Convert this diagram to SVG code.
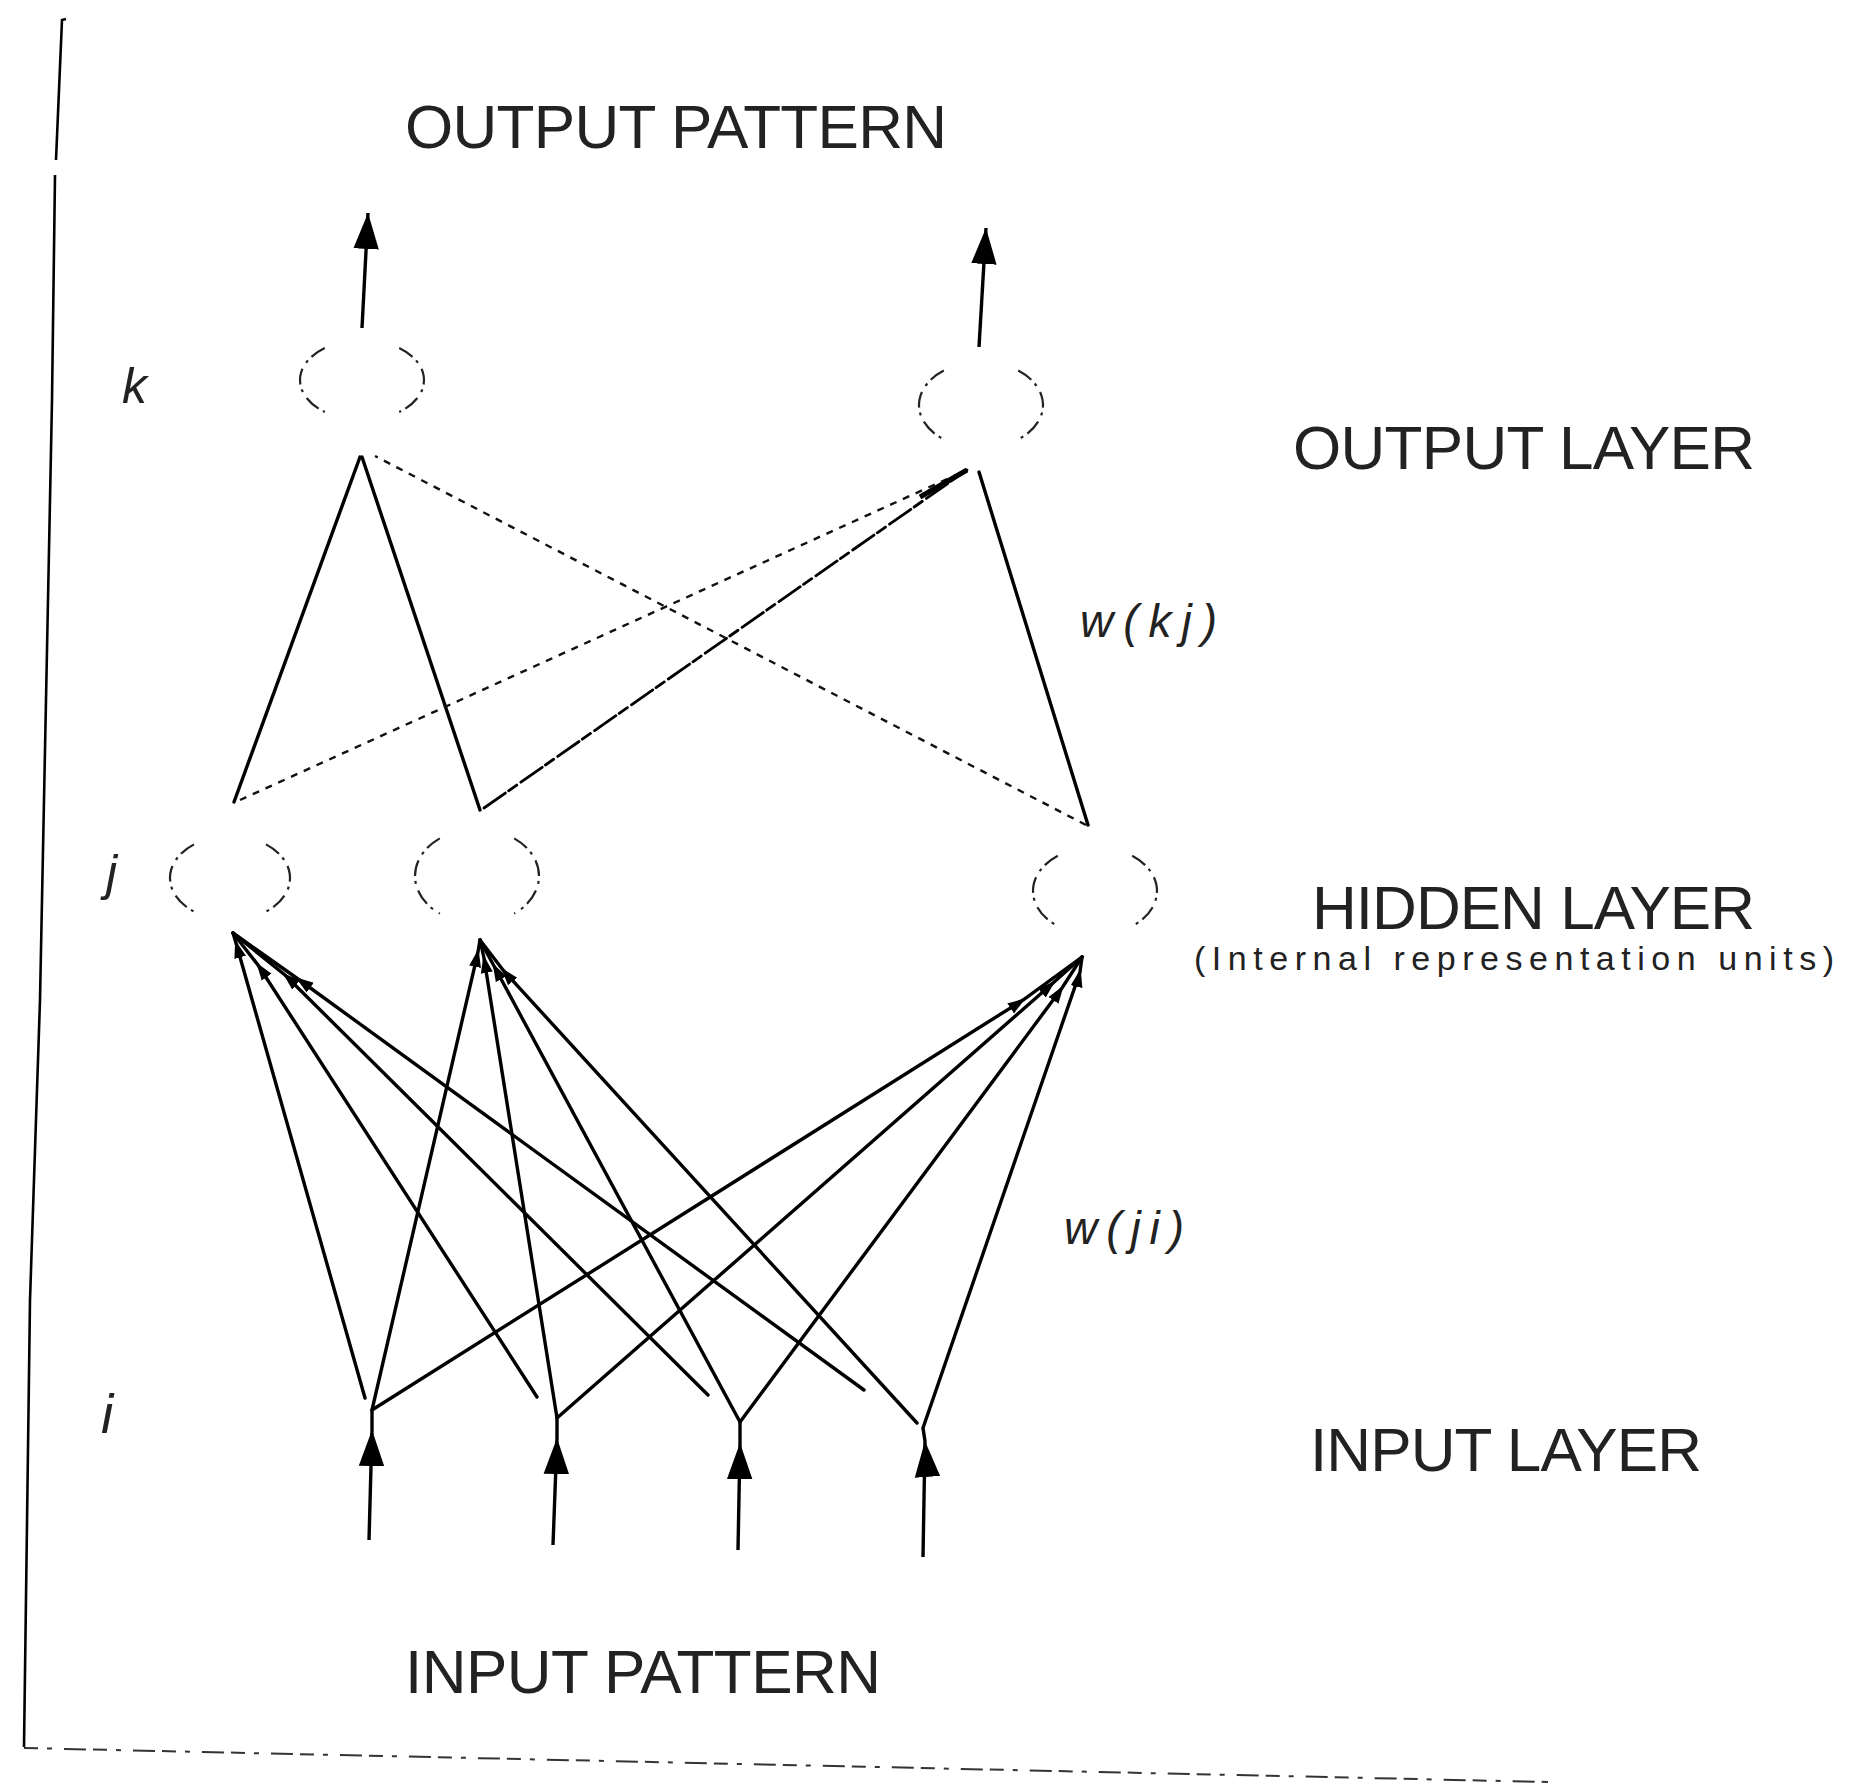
<svg xmlns="http://www.w3.org/2000/svg" width="1867" height="1785" viewBox="0 0 1867 1785">
<style>
.lbl{font-family:"Liberation Sans Narrow","Liberation Sans",Arial,sans-serif;font-size:62px;fill:#222}
.sub{font-family:"Liberation Sans Narrow","Liberation Sans",Arial,sans-serif;font-size:34px;fill:#222}
.it{font-family:"Liberation Sans",Arial,sans-serif;font-style:italic;fill:#222}
.ring{fill:none;stroke:#222;stroke-width:2.2;stroke-dasharray:16 5 3 7}
.c{fill:none;stroke:#000;stroke-width:3.4;stroke-linecap:round}
.c2{fill:none;stroke:#000;stroke-width:2.8;stroke-linecap:round}
.dot{fill:none;stroke:#111;stroke-width:2.4;stroke-dasharray:7 7}
.shaft{fill:none;stroke:#000;stroke-width:3.4}
.frame{fill:none;stroke:#000;stroke-width:2.6}
</style>
<defs>
<marker id="big" markerUnits="userSpaceOnUse" markerWidth="36" markerHeight="30" viewBox="0 0 34 28" refX="34" refY="14" orient="auto">
<path d="M0,2 L34,14 L0,26 Z" fill="#000"/>
</marker>
<marker id="small" markerUnits="userSpaceOnUse" markerWidth="18" markerHeight="14" viewBox="0 0 18 14" refX="15" refY="7" orient="auto">
<path d="M0,1 L18,7 L0,13 Z" fill="#000"/>
</marker>
</defs>
<rect width="1867" height="1785" fill="#fff"/>

<g id="frame">
<path class="frame" d="M66,19 L62,20 L56,160 M55,175 L52,400 L40,1000 L30,1300 L24,1747"/>
<path d="M24,1748 L1548,1782" fill="none" stroke="#333" stroke-width="2" stroke-dasharray="14 9 5 12 22 7"/>
</g>

<g id="labels">
<text class="lbl" x="405" y="148" textLength="542" lengthAdjust="spacing">OUTPUT PATTERN</text>
<text class="lbl" x="1293" y="469" textLength="462" lengthAdjust="spacing">OUTPUT LAYER</text>
<text class="lbl" x="1312" y="929" textLength="443" lengthAdjust="spacing">HIDDEN LAYER</text>
<text class="sub" x="1194" y="970" textLength="640" lengthAdjust="spacing">(Internal representation units)</text>
<text class="lbl" x="1310" y="1471" textLength="392" lengthAdjust="spacing">INPUT LAYER</text>
<text class="lbl" x="405" y="1693" textLength="476" lengthAdjust="spacing">INPUT PATTERN</text>
<text class="it" x="1080" y="637" font-size="46" textLength="137" lengthAdjust="spacing">w(kj)</text>
<text class="it" x="1064" y="1244" font-size="46" textLength="120" lengthAdjust="spacing">w(ji)</text>
<text class="it" x="122" y="403" font-size="50">k</text>
<text class="it" x="106" y="890" font-size="50">j</text>
<text class="it" x="101" y="1433" font-size="55">i</text>
</g>

<g id="connectors">
<path class="c" d="M234,802 L360,457"/>
<path class="c" d="M480,810 L362,457"/>
<path class="dot" d="M1086,825 L375,456"/>
<path class="dot" d="M240,800 L967,470"/>
<path class="c2" d="M484,808 L967,470" stroke-dasharray="26 4 10 5"/>
<path class="c" d="M1088,825 L979,472"/>
<path d="M920,497 L967,470" stroke="#000" stroke-width="5" fill="none"/>
<path class="c" d="M365,1398 L236,943 L233,933" marker-mid="url(#small)"/>
<path class="c" d="M537,1397 L258,965 L233,933" marker-mid="url(#small)"/>
<path class="c" d="M708,1395 L285,975 L233,933" marker-mid="url(#small)"/>
<path class="c" d="M864,1390 L298,979 L233,933" marker-mid="url(#small)"/>
<path class="c" d="M372,1410 L478,952 L480,940" marker-mid="url(#small)"/>
<path class="c" d="M557,1418 L484,958 L480,940" marker-mid="url(#small)"/>
<path class="c" d="M740,1422 L494,966 L480,940" marker-mid="url(#small)"/>
<path class="c" d="M917,1423 L503,970 L480,940" marker-mid="url(#small)"/>
<path class="c" d="M372,1410 L1023,1000 L1082,957" marker-mid="url(#small)"/>
<path class="c" d="M557,1418 L1053,983 L1082,957" marker-mid="url(#small)"/>
<path class="c" d="M740,1422 L1062,988 L1082,957" marker-mid="url(#small)"/>
<path class="c" d="M923,1428 L1080,972 L1082,957" marker-mid="url(#small)"/>
</g>

<g id="output-1">
<path class="ring" d="M324.8,348 A62,40 0 0 0 324.8,412"/>
<path class="ring" d="M399.2,348 A62,40 0 0 1 399.2,412"/>
<path class="shaft" d="M362,328 L368,213" marker-end="url(#big)"/>
</g>
<g id="output-2">
<path class="ring" d="M943.8,370.6 A62,43 0 0 0 943.8,439.4"/>
<path class="ring" d="M1018.2,370.6 A62,43 0 0 1 1018.2,439.4"/>
<path class="shaft" d="M979,347 L986,228" marker-end="url(#big)"/>
</g>
<g id="hidden-1">
<path class="ring" d="M194,844.4 A60,42 0 0 0 194,911.6"/>
<path class="ring" d="M266,844.4 A60,42 0 0 1 266,911.6"/>
</g>
<g id="hidden-2">
<path class="ring" d="M439.8,838.4 A62,47 0 0 0 439.8,913.6"/>
<path class="ring" d="M514.2,838.4 A62,47 0 0 1 514.2,913.6"/>
</g>
<g id="hidden-3">
<path class="ring" d="M1057.8,855.8 A62,44 0 0 0 1057.8,926.2"/>
<path class="ring" d="M1132.2,855.8 A62,44 0 0 1 1132.2,926.2"/>
</g>
<g id="input-1"><path class="shaft" d="M369,1540 L372,1430 L372,1410" marker-mid="url(#big)"/></g>
<g id="input-2"><path class="shaft" d="M553,1545 L557,1438 L557,1418" marker-mid="url(#big)"/></g>
<g id="input-3"><path class="shaft" d="M738,1550 L740,1443 L740,1422" marker-mid="url(#big)"/></g>
<g id="input-4"><path class="shaft" d="M923,1557 L925,1441 L923,1428" marker-mid="url(#big)"/></g>
</svg>
